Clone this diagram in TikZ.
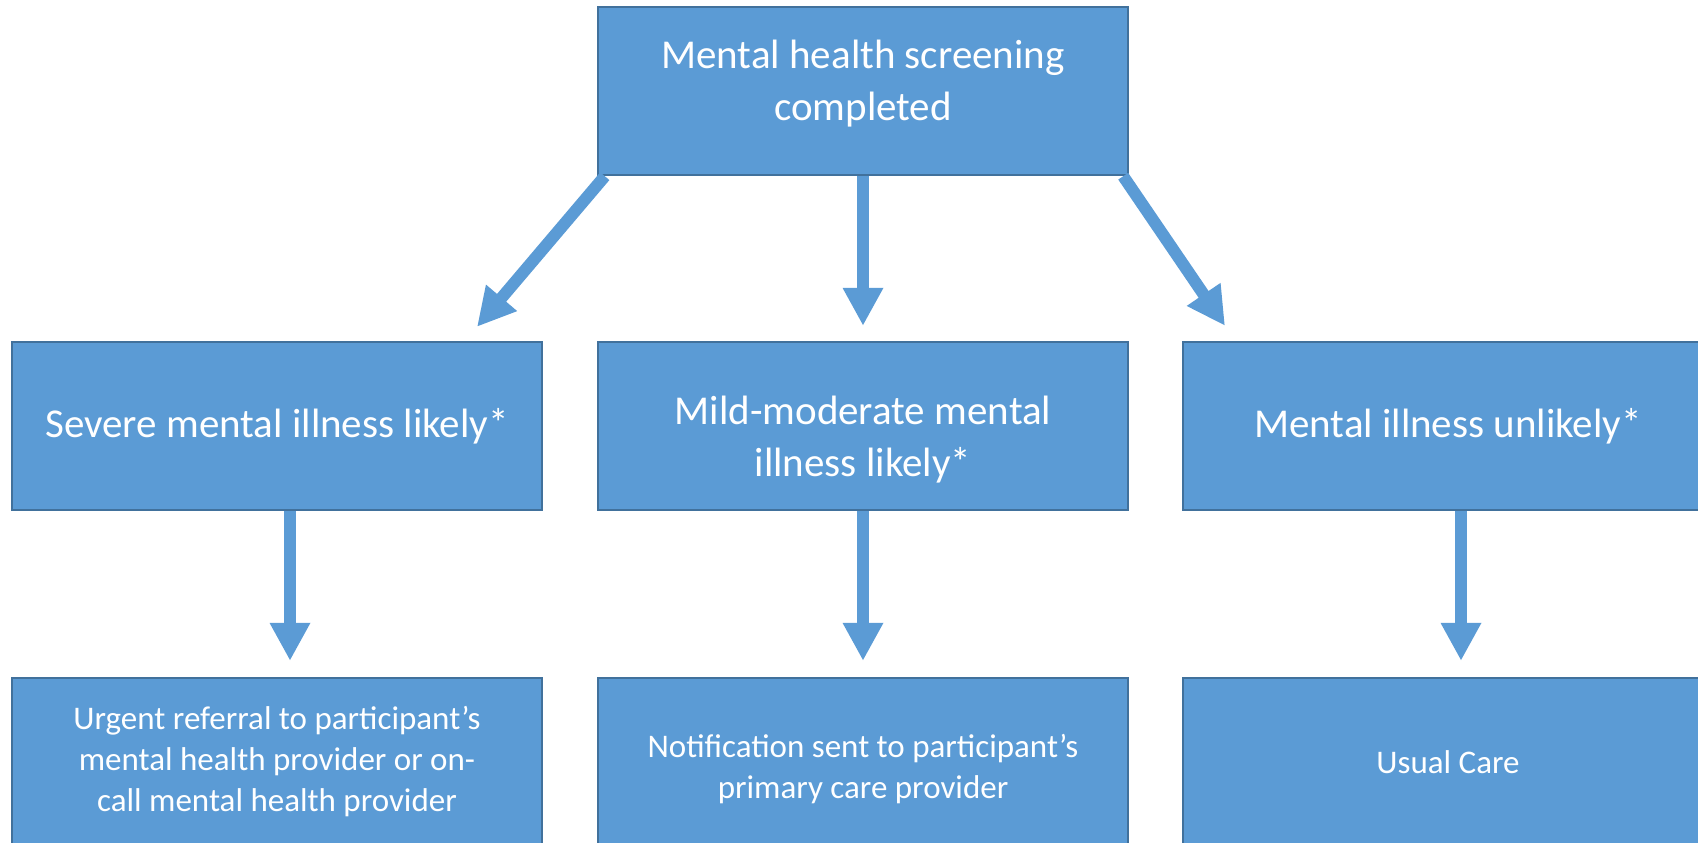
\documentclass[tikz,border=0pt]{standalone}
\usepackage{fontspec}
\setmainfont{Carlito}
\usetikzlibrary{arrows.meta}
\definecolor{boxblue}{HTML}{5B9BD5}
\definecolor{boxline}{HTML}{41719C}

\begin{document}
\begin{tikzpicture}[x=0.5pt, y=-0.5pt,
    box/.style={rectangle, draw=boxline, line width=1.2pt, fill=boxblue, text=white, align=center, minimum width=265pt, minimum height=84pt, inner sep=0pt},
    lbl/.style={text=white, align=center, inner sep=0pt},
    big/.style={font=\fontsize{20.5}{26}\selectfont},
    small/.style={font=\fontsize{16.5}{20.5}\selectfont},
    arr/.style={draw=boxblue, line width=6pt, -{Triangle[width=19pt, length=19pt]}}]
    \useasboundingbox (0, 0) rectangle (1698, 842);
    \clip (0, 0) rectangle (1698, 842);
    \node[box, label={[lbl, big, yshift=3.75pt]center:{Mental health screening\\completed}}] (0) at (863, 91) {};
    \node[box, big] (1) at (277, 426) {Severe mental illness likely*};
    \node[box, label={[lbl, big, yshift=-7pt]center:{Mild-moderate mental\\illness likely*}}] (2) at (863, 426) {};
    \node[box, big] (3) at (1448, 426) {Mental illness unlikely*};
    \node[box, small] (4) at (277, 762) {Urgent referral to participant’s\\mental health provider or on-\\call mental health provider};
    \node[box, label={[lbl, small, yshift=-3.5pt]center:{Notification sent to participant’s\\primary care provider}}] (5) at (863, 762) {};
    \node[box, small] (6) at (1448, 762) {Usual Care};
    \draw[arr] ([xshift=4pt]0.south west) -- ([xshift=100pt, yshift=7pt]1.north);
    \draw[arr, shorten >=7.5pt] (0) -- (2);
    \draw[arr] ([xshift=-3pt]0.south east) -- ([xshift=-111.5pt, yshift=7.5pt]3.north);
    \draw[arr, shorten >=8pt] ([xshift=6.5pt]1.south) -- ([xshift=6.5pt]4.north);
    \draw[arr, shorten >=8pt] (2) -- (5);
    \draw[arr, shorten >=8pt] ([xshift=6.5pt]3.south) -- ([xshift=6.5pt]6.north);
\end{tikzpicture}
\end{document}
